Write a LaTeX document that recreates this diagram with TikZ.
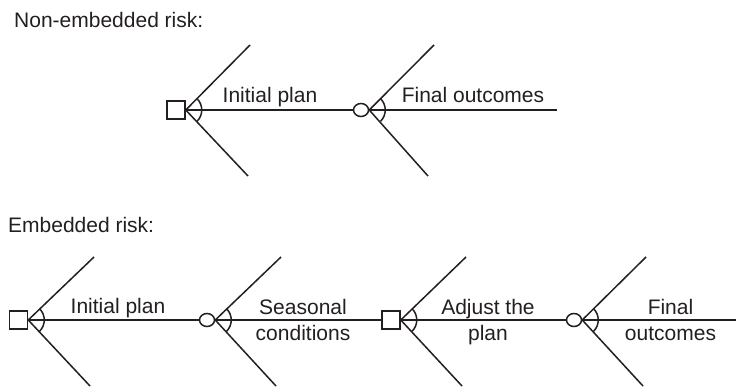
\documentclass[tikz,border=0pt]{standalone}
\usepackage{fontspec}
\setmainfont{Liberation Sans}
\usetikzlibrary{shapes.geometric}
\definecolor{ink}{RGB}{35,31,32}
\begin{document}
\begin{tikzpicture}[x=1pt,y=-1pt,
  stroke/.style={line width=1.5pt, draw=ink},
  decision/.style={stroke, rectangle, minimum size=18pt, inner sep=0pt},
  chance/.style={stroke, ellipse, minimum width=15pt, minimum height=13pt, inner sep=0pt},
  lbl/.style={font=\fontsize{21}{26}\selectfont, inner sep=0pt, align=center, text=ink, anchor=base},
  heading/.style={font=\fontsize{21}{26}\selectfont, inner sep=0pt, text=ink, anchor=base west}
]
\useasboundingbox (0,0) rectangle (736,386);

% ---------- non-embedded risk ----------
\node[heading] (h1) at (14,27) {Non-embedded risk:};

\node[decision] (d1) at (176,110) {};
\node[chance]   (c1) at (361,110) {};
\coordinate (e1)  at (557,110);
\coordinate (d1u) at (250,45);
\coordinate (d1l) at (248,176);
\coordinate (c1u) at (434,45);
\coordinate (c1l) at (428,176);

\draw[stroke] (d1.east) -- (c1.west);
\draw[stroke] (c1.east) -- (e1);
\draw[stroke] (d1.east) -- (d1u);
\draw[stroke] (d1.east) -- (d1l);
\draw[stroke] (c1.east) -- (c1u);
\draw[stroke] (c1.east) -- (c1l);
\draw[stroke] ([shift={(-45:16pt)}]d1.east) arc[start angle=-45, end angle=45, radius=16pt];
\draw[stroke] ([shift={(-45:16pt)}]c1.east) arc[start angle=-45, end angle=45, radius=16pt];

\node[lbl] (t1) at (270,102) {Initial plan};
\node[lbl] (t2) at (473,102) {Final outcomes};

% ---------- embedded risk ----------
\node[heading] (h2) at (8,232) {Embedded risk:};

\node[decision] (d2) at (18.5,320) {};
\node[chance]   (c2) at (207,320) {};
\node[decision] (d3) at (391,320) {};
\node[chance]   (c3) at (574,320) {};
\coordinate (e2) at (736,320);

\coordinate (d2u) at (94,257);
\coordinate (d2l) at (90,386);
\coordinate (c2u) at (281,257);
\coordinate (c2l) at (276,386);
\coordinate (d3u) at (466,257);
\coordinate (d3l) at (462,386);
\coordinate (c3u) at (646,257);
\coordinate (c3l) at (643,386);

\draw[stroke] (d2.east) -- (c2.west);
\draw[stroke] (c2.east) -- (d3.west);
\draw[stroke] (d3.east) -- (c3.west);
\draw[stroke] (c3.east) -- (e2);

\foreach \n in {d2,c2,d3,c3}{
  \draw[stroke] (\n.east) -- (\n u);
  \draw[stroke] (\n.east) -- (\n l);
  \draw[stroke] ([shift={(-45:16pt)}]\n.east) arc[start angle=-45, end angle=45, radius=16pt];
}

% two-line labels are anchored on the baseline of their second line
\node[lbl] (t3) at (118,313) {Initial plan};
\node[lbl] (t4) at (303,340) {Seasonal\\conditions};
\node[lbl] (t5) at (488,340) {Adjust the\\plan};
\node[lbl] (t6) at (670.5,340) {Final\\outcomes};
\end{tikzpicture}
\end{document}
